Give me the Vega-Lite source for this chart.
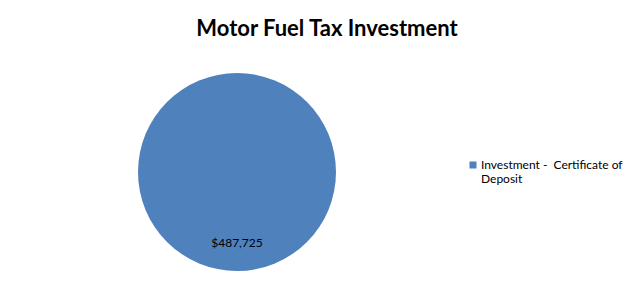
{
  "$schema": "https://vega.github.io/schema/vega-lite/v6.json",
  "width": 450,
  "height": 198,
  "padding": {"left": 12, "top": 18, "right": 0, "bottom": 0},
  "background": "white",
  "title": {
    "text": "Motor Fuel Tax Investment",
    "font": "Lato",
    "fontSize": 22,
    "fontWeight": "bold",
    "color": "#000000",
    "anchor": "middle",
    "dx": 90,
    "offset": 32
  },
  "data": {
    "values": [
      {"category": "Investment -  Certificate of Deposit", "amount": 487725}
    ]
  },
  "encoding": {
    "theta": {"field": "amount", "type": "quantitative", "stack": true},
    "color": {
      "field": "category",
      "type": "nominal",
      "scale": {"range": ["#4F81BD"]},
      "legend": {
        "title": null,
        "orient": "none",
        "legendX": 455,
        "legendY": 86,
        "padding": 0,
        "symbolType": "square",
        "symbolSize": 49,
        "symbolStrokeWidth": 0,
        "labelFont": "Lato",
        "labelFontSize": 12,
        "labelColor": "#000000",
        "labelOffset": 2,
        "labelLimit": 0,
        "labelExpr": "['Investment -\u00a0 Certificate of', 'Deposit']",
        "labelLineHeight": 18
      }
    }
  },
  "layer": [
    {"mark": {"type": "arc", "radius": 99}},
    {
      "mark": {"type": "text", "radius": 71, "font": "Lato", "fontSize": 12, "color": "#000000"},
      "encoding": {
        "text": {"field": "amount", "type": "quantitative", "format": "$,.0f"},
        "color": {"value": "#000000"}
      }
    }
  ],
  "config": {"view": {"stroke": null}}
}
